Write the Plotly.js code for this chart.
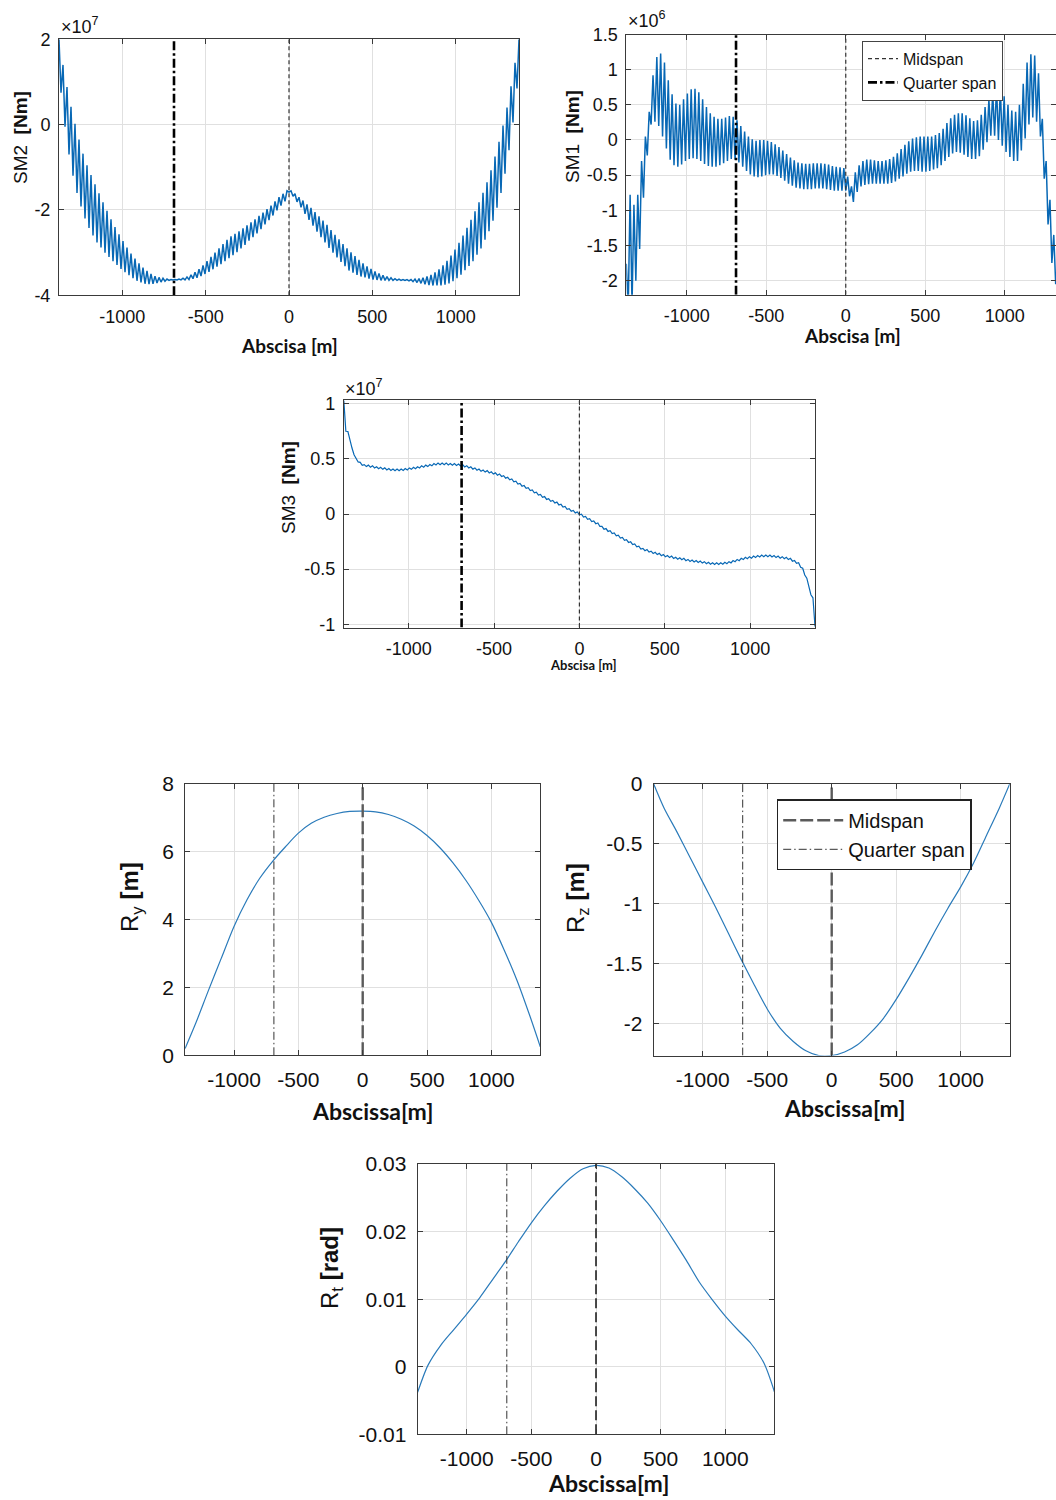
<!DOCTYPE html>
<html>
<head>
<meta charset="utf-8">
<script src="https://cdn.plot.ly/plotly-3.0.1.min.js"></script>
<style>html,body{margin:0;padding:0;background:#fff}#chart{width:1056px;height:1500px}</style>
</head>
<body>
<div id="chart"></div>
<script>
// ---------- data ----------
// abscissa grid of the moment diagrams: start of span and sampling step [m]
const spanStart = -1380;
const sampleStep = 12;
const midspanX = 0;
const quarterSpanX = -690;

// SM2 [x1e7 Nm], one value every 12 m from -1380 m
const sm2Values = [
  2.00, 0.75, 1.40, -0.05, 0.88, -0.70, 0.42, -1.20, 0.02, -1.60,
  -0.35, -1.92, -0.68, -2.20, -0.95, -2.42, -1.18, -2.60, -1.40, -2.76,
  -1.61, -2.88, -1.82, -3.00, -2.02, -3.10, -2.22, -3.20, -2.40, -3.29,
  -2.57, -3.38, -2.73, -3.46, -2.88, -3.53, -3.02, -3.60, -3.14, -3.66,
  -3.25, -3.70, -3.35, -3.73, -3.43, -3.74, -3.50, -3.73, -3.55, -3.71,
  -3.58, -3.69, -3.60, -3.67, -3.62, -3.65, -3.63, -3.64, -3.63, -3.64,
  -3.62, -3.64, -3.60, -3.64, -3.57, -3.63, -3.52, -3.61, -3.46, -3.59,
  -3.39, -3.55, -3.30, -3.50, -3.20, -3.45, -3.10, -3.39, -3.00, -3.33,
  -2.90, -3.27, -2.80, -3.20, -2.70, -3.13, -2.62, -3.06, -2.56, -2.99,
  -2.50, -2.90, -2.43, -2.82, -2.36, -2.72, -2.29, -2.64, -2.22, -2.55,
  -2.14, -2.45, -2.06, -2.34, -1.98, -2.24, -1.90, -2.13, -1.80, -2.01,
  -1.70, -1.90, -1.62, -1.80, -1.55, -1.58, -1.55, -1.68, -1.62, -1.81,
  -1.70, -1.94, -1.78, -2.09, -1.87, -2.23, -1.95, -2.37, -2.05, -2.51,
  -2.15, -2.64, -2.25, -2.76, -2.35, -2.89, -2.47, -3.00, -2.58, -3.11,
  -2.69, -3.22, -2.80, -3.32, -2.90, -3.42, -2.99, -3.47, -3.08, -3.52,
  -3.17, -3.56, -3.25, -3.58, -3.32, -3.61, -3.38, -3.63, -3.44, -3.64,
  -3.49, -3.65, -3.53, -3.65, -3.56, -3.65, -3.59, -3.65, -3.61, -3.65,
  -3.62, -3.65, -3.63, -3.65, -3.63, -3.66, -3.63, -3.68, -3.62, -3.70,
  -3.61, -3.72, -3.59, -3.74, -3.56, -3.76, -3.52, -3.77, -3.46, -3.77,
  -3.39, -3.77, -3.30, -3.75, -3.19, -3.72, -3.07, -3.67, -2.93, -3.60,
  -2.77, -3.52, -2.60, -3.41, -2.42, -3.31, -2.23, -3.20, -2.03, -3.05,
  -1.82, -2.90, -1.60, -2.70, -1.35, -2.50, -1.07, -2.25, -0.75, -1.95,
  -0.40, -1.60, -0.02, -1.15, 0.40, -0.60, 0.90, 0.05, 1.45, 0.85,
  2.00
];

// SM1 [x1e6 Nm], one value every 12 m from -1380 m
const sm1Values = [
  -1.76, -2.40, -0.78, -2.35, -0.92, -2.00, -0.78, -1.55, -0.30, -0.82,
  0.05, -0.22, 0.40, 0.22, 0.92, 0.26, 1.18, 0.20, 1.23, 0.05,
  1.10, -0.12, 0.85, -0.28, 0.65, -0.36, 0.52, -0.38, 0.50, -0.35,
  0.58, -0.30, 0.66, -0.27, 0.72, -0.26, 0.73, -0.27, 0.68, -0.30,
  0.58, -0.34, 0.47, -0.37, 0.38, -0.38, 0.33, -0.38, 0.30, -0.36,
  0.30, -0.33, 0.32, -0.30, 0.34, -0.27, 0.33, -0.28, 0.28, -0.32,
  0.20, -0.38, 0.12, -0.44, 0.05, -0.49, 0.01, -0.52, -0.01, -0.53,
  0.00, -0.52, 0.00, -0.50, -0.01, -0.49, -0.03, -0.49, -0.06, -0.51,
  -0.10, -0.54, -0.15, -0.58, -0.20, -0.62, -0.25, -0.65, -0.29, -0.68,
  -0.32, -0.69, -0.33, -0.70, -0.34, -0.70, -0.34, -0.70, -0.33, -0.69,
  -0.33, -0.69, -0.33, -0.69, -0.34, -0.70, -0.35, -0.71, -0.37, -0.72,
  -0.38, -0.72, -0.39, -0.72, -0.40, -0.72, -0.52, -0.80, -0.66, -0.88,
  -0.46, -0.74, -0.36, -0.66, -0.30, -0.64, -0.28, -0.63, -0.28, -0.62,
  -0.29, -0.62, -0.30, -0.62, -0.30, -0.62, -0.29, -0.62, -0.27, -0.61,
  -0.24, -0.59, -0.19, -0.55, -0.13, -0.52, -0.07, -0.48, -0.02, -0.45,
  0.02, -0.44, 0.04, -0.44, 0.05, -0.45, 0.05, -0.45, 0.05, -0.44,
  0.05, -0.42, 0.07, -0.40, 0.10, -0.36, 0.16, -0.30, 0.24, -0.24,
  0.31, -0.19, 0.36, -0.17, 0.38, -0.18, 0.38, -0.21, 0.35, -0.24,
  0.31, -0.27, 0.27, -0.27, 0.28, -0.23, 0.36, -0.14, 0.47, -0.03,
  0.58, 0.06, 0.68, 0.06, 0.76, 0.00, 0.74, -0.08, 0.62, -0.17,
  0.50, -0.24, 0.42, -0.30, 0.40, -0.30, 0.50, -0.15, 0.80, 0.02,
  1.10, 0.22, 1.22, 0.32, 1.20, 0.26, 0.95, 0.05, 0.30, -0.55,
  -0.30, -1.20, -0.85, -1.75, -1.35, -2.05, -1.80
];

// SM3 [x1e7 Nm]: values at the hangers (every 24 m from -1380 m) and between them
const sm3AtHangers = [
  1.03, 0.748, 0.598, 0.508, 0.468, 0.448, 0.443, 0.438, 0.428, 0.423,
  0.418, 0.413, 0.408, 0.408, 0.408, 0.413, 0.418, 0.423, 0.428, 0.438,
  0.443, 0.448, 0.458, 0.463, 0.463, 0.463, 0.458, 0.458, 0.453, 0.448,
  0.438, 0.428, 0.418, 0.408, 0.398, 0.393, 0.383, 0.373, 0.363, 0.348,
  0.333, 0.318, 0.298, 0.278, 0.258, 0.238, 0.218, 0.198, 0.178, 0.158,
  0.138, 0.123, 0.108, 0.088, 0.068, 0.048, 0.033, 0.018, -0.002, -0.022,
  -0.042, -0.062, -0.082, -0.112, -0.132, -0.152, -0.172, -0.192, -0.212, -0.232,
  -0.252, -0.272, -0.292, -0.312, -0.322, -0.337, -0.347, -0.357, -0.367, -0.377,
  -0.382, -0.392, -0.397, -0.402, -0.412, -0.417, -0.422, -0.427, -0.432, -0.437,
  -0.442, -0.442, -0.442, -0.437, -0.432, -0.422, -0.412, -0.402, -0.392, -0.387,
  -0.382, -0.377, -0.372, -0.372, -0.372, -0.377, -0.382, -0.387, -0.392, -0.402,
  -0.422, -0.442, -0.492, -0.582, -0.732, -1.02
];
const sm3BetweenHangers = [
  0.75, 0.66, 0.537, 0.472, 0.442, 0.43, 0.425, 0.417, 0.41, 0.405,
  0.40, 0.395, 0.392, 0.392, 0.395, 0.40, 0.405, 0.41, 0.417, 0.425,
  0.43, 0.437, 0.445, 0.447, 0.447, 0.445, 0.442, 0.44, 0.435, 0.427,
  0.417, 0.407, 0.397, 0.387, 0.38, 0.372, 0.362, 0.352, 0.34, 0.325,
  0.31, 0.292, 0.272, 0.252, 0.232, 0.212, 0.192, 0.172, 0.152, 0.132,
  0.115, 0.10, 0.082, 0.062, 0.042, 0.025, 0.01, -0.008, -0.028, -0.048,
  -0.068, -0.088, -0.113, -0.138, -0.158, -0.178, -0.198, -0.218, -0.238, -0.258,
  -0.278, -0.298, -0.318, -0.333, -0.345, -0.358, -0.368, -0.378, -0.388, -0.395,
  -0.403, -0.41, -0.415, -0.423, -0.43, -0.435, -0.44, -0.445, -0.45, -0.455,
  -0.458, -0.458, -0.455, -0.45, -0.443, -0.433, -0.423, -0.413, -0.405, -0.40,
  -0.395, -0.39, -0.388, -0.388, -0.39, -0.395, -0.40, -0.405, -0.413, -0.428,
  -0.448, -0.483, -0.553, -0.66, -0.76
];

// Displacements / rotation along the span
const rAbscissa = [-1380, -1300, -1200, -1100, -1000, -900, -800, -700, -600, -500, -400, -300, -200, -100, 0,
  100, 200, 300, 400, 500, 600, 700, 800, 900, 1000, 1100, 1200, 1300, 1380];
const rY = [0.2, 0.92, 1.9, 2.85, 3.8, 4.58, 5.22, 5.72, 6.15, 6.55, 6.84, 7.02, 7.13, 7.19, 7.2,
  7.18, 7.1, 6.96, 6.76, 6.48, 6.12, 5.68, 5.17, 4.58, 3.92, 3.1, 2.2, 1.15, 0.25];
const rZ = [0.0, -0.20, -0.40, -0.61, -0.82, -1.03, -1.25, -1.47, -1.68, -1.88, -2.04, -2.15, -2.23, -2.27, -2.27,
  -2.24, -2.18, -2.08, -1.96, -1.80, -1.62, -1.43, -1.23, -1.04, -0.86, -0.66, -0.43, -0.20, 0.0];
const rT = [-0.0038, 0.0002, 0.0032, 0.0055, 0.0078, 0.0102, 0.0129, 0.0156, 0.0185, 0.0213, 0.0238, 0.0260, 0.0279, 0.0293, 0.0298,
  0.0294, 0.0281, 0.0263, 0.0242, 0.0216, 0.0187, 0.0157, 0.0125, 0.0099, 0.0075, 0.0054, 0.0034, 0.0005, -0.0037];

// tick labels
const xTickVals = [-1000, -500, 0, 500, 1000];
const xTickText = ['-1000', '-500', '0', '500', '1000'];
const sm2TickVals = [-4, -2, 0, 2];
const sm2TickText = ['-4', '-2', '0', '2'];
const sm1TickVals = [-2, -1.5, -1, -0.5, 0, 0.5, 1, 1.5];
const sm1TickText = ['-2', '-1.5', '-1', '-0.5', '0', '0.5', '1', '1.5'];
const sm3TickVals = [-1, -0.5, 0, 0.5, 1];
const sm3TickText = ['-1', '-0.5', '0', '0.5', '1'];
const ryTickVals = [0, 2, 4, 6, 8];
const ryTickText = ['0', '2', '4', '6', '8'];
const rzTickVals = [-2, -1.5, -1, -0.5, 0];
const rzTickText = ['-2', '-1.5', '-1', '-0.5', '0'];
const rtTickVals = [-0.01, 0, 0.01, 0.02, 0.03];
const rtTickText = ['-0.01', '0', '0.01', '0.02', '0.03'];

// axis ranges
const xRange = [-1380, 1380];
const xRangeSM1 = [-1380, 1322];
const sm2Range = [-4, 2];
const sm1Range = [-2.2, 1.5];
const sm3Range = [-1.03, 1.03];
const ryRange = [0, 8];
const rzRange = [-2.27, 0];
const rtRange = [-0.01, 0.03];

// ---------- build ----------
const smX = sm2Values.map((_, i) => spanStart + i * sampleStep);
const sm1X = sm1Values.map((_, i) => spanStart + i * sampleStep);
const sm3Values = [];
sm3AtHangers.forEach((v, k) => {
  sm3Values.push(v);
  if (k < sm3BetweenHangers.length) sm3Values.push(sm3BetweenHangers[k]);
});
const sm3X = sm3Values.map((_, i) => spanStart + i * sampleStep);

const BLUE = '#0868b5';
const TICKFONT = 'Liberation Sans, Arial, sans-serif';
const BOLDFONT = 'Lato, Liberation Sans, sans-serif';

function xAxis(domain, anchor, range, size, standoff) {
  return {
    domain, anchor, range, tickmode: 'array', tickvals: xTickVals, ticktext: xTickText,
    showgrid: true, gridcolor: '#e0e0e0', gridwidth: 1, zeroline: false,
    showline: true, linecolor: '#3a3a3a', linewidth: 1, mirror: 'ticks',
    ticks: 'inside', ticklen: 5, tickcolor: '#3a3a3a',
    tickfont: {family: TICKFONT, size, color: '#111'}, ticklabelstandoff: standoff
  };
}
function yAxis(domain, anchor, range, vals, text, size, standoff) {
  return {
    domain, anchor, range, tickmode: 'array', tickvals: vals, ticktext: text,
    showgrid: true, gridcolor: '#e0e0e0', gridwidth: 1, zeroline: false,
    showline: true, linecolor: '#3a3a3a', linewidth: 1, mirror: 'ticks',
    ticks: 'inside', ticklen: 5, tickcolor: '#3a3a3a',
    tickfont: {family: TICKFONT, size, color: '#111'}, ticklabelstandoff: standoff
  };
}
function vline(xv, range, xa, ya, style, name, legend) {
  return Object.assign({
    x: [xv, xv], y: range, xaxis: xa, yaxis: ya, mode: 'lines',
    name: name, showlegend: !!legend, hoverinfo: 'skip'
  }, legend ? {legend} : {}, {line: style});
}

const qThick = {color: '#000', width: 2.6, dash: '9px,3px,2.5px,3px'};
const mThin = {color: '#333', width: 1.2, dash: '4px,3px'};
const qThin = {color: '#333', width: 1, dash: '8px,3px,1.5px,3px'};
const mThickGray = {color: '#5a5a5a', width: 2.4, dash: '13px,4px'};
const mDashBlack = {color: '#111', width: 1.5, dash: '10px,4px'};
const rLine = {color: '#2b7bba', width: 1.2, shape: 'spline', smoothing: 0.8};

const traces = [
  {x: smX, y: sm2Values, xaxis: 'x', yaxis: 'y', mode: 'lines', line: {color: BLUE, width: 1.5}, showlegend: false},
  vline(quarterSpanX, sm2Range, 'x', 'y', qThick, 'Quarter span'),
  vline(midspanX, sm2Range, 'x', 'y', mThin, 'Midspan'),

  {x: sm1X, y: sm1Values, xaxis: 'x2', yaxis: 'y2', mode: 'lines', line: {color: BLUE, width: 1.5}, showlegend: false},
  vline(midspanX, sm1Range, 'x2', 'y2', mThin, 'Midspan', 'legend'),
  vline(quarterSpanX, sm1Range, 'x2', 'y2', qThick, 'Quarter span', 'legend'),

  {x: sm3X, y: sm3Values, xaxis: 'x3', yaxis: 'y3', mode: 'lines', line: {color: BLUE, width: 1.2}, showlegend: false},
  vline(quarterSpanX, sm3Range, 'x3', 'y3', qThick, 'Quarter span'),
  vline(midspanX, sm3Range, 'x3', 'y3', mThin, 'Midspan'),

  {x: rAbscissa, y: rY, xaxis: 'x4', yaxis: 'y4', mode: 'lines', line: rLine, showlegend: false},
  vline(quarterSpanX, ryRange, 'x4', 'y4', qThin, 'Quarter span'),
  vline(midspanX, ryRange, 'x4', 'y4', mThickGray, 'Midspan'),

  {x: rAbscissa, y: rZ, xaxis: 'x5', yaxis: 'y5', mode: 'lines', line: rLine, showlegend: false},
  vline(midspanX, rzRange, 'x5', 'y5', mThickGray, 'Midspan', 'legend2'),
  vline(quarterSpanX, rzRange, 'x5', 'y5', qThin, 'Quarter span', 'legend2'),

  {x: rAbscissa, y: rT, xaxis: 'x6', yaxis: 'y6', mode: 'lines', line: rLine, showlegend: false},
  vline(quarterSpanX, rtRange, 'x6', 'y6', qThin, 'Quarter span'),
  vline(midspanX, rtRange, 'x6', 'y6', mDashBlack, 'Midspan')
];

const W = 1056, H = 1500;
const px = v => v / W;
const py = v => 1 - v / H;

function ann(text, x, y, size, opts) {
  return Object.assign({
    text, x: px(x), y: py(y), xref: 'paper', yref: 'paper', showarrow: false,
    font: {family: TICKFONT, size, color: '#111'}, xanchor: 'center', yanchor: 'middle'
  }, opts || {});
}
const boldFont = s => ({family: BOLDFONT, size: s, color: '#111', weight: 700});

const layout = {
  width: W, height: H, margin: {l: 0, r: 0, t: 0, b: 0},
  paper_bgcolor: '#fff', plot_bgcolor: '#fff', showlegend: true,
  xaxis: xAxis([px(59), px(519)], 'y', xRange, 18, 5),
  yaxis: yAxis([py(295.3), py(39.3)], 'x', sm2Range, sm2TickVals, sm2TickText, 18, 4),
  xaxis2: xAxis([px(626.3), 1], 'y2', xRangeSM1, 18, 5),
  yaxis2: yAxis([py(294.7), py(34.5)], 'x2', sm1Range, sm1TickVals, sm1TickText, 18, 4),
  xaxis3: xAxis([px(343.8), px(815)], 'y3', xRange, 18, 5),
  yaxis3: yAxis([py(627.6), py(400.4)], 'x3', sm3Range, sm3TickVals, sm3TickText, 18, 4),
  xaxis4: xAxis([px(185.1), px(540.3)], 'y4', xRange, 21, 5),
  yaxis4: yAxis([py(1055.3), py(784)], 'x4', ryRange, ryTickVals, ryTickText, 21, 6),
  xaxis5: xAxis([px(653.7), px(1009.7)], 'y5', xRange, 21, 5),
  yaxis5: yAxis([py(1055.6), py(784)], 'x5', rzRange, rzTickVals, rzTickText, 21, 6),
  xaxis6: xAxis([px(417.6), px(774.4)], 'y6', xRange, 21, 5),
  yaxis6: yAxis([py(1434.3), py(1164)], 'x6', rtRange, rtTickVals, rtTickText, 21, 6),
  legend: {
    x: px(862), y: py(40.7), xanchor: 'left', yanchor: 'top',
    bgcolor: '#fff', bordercolor: '#444', borderwidth: 1,
    font: {family: TICKFONT, size: 16, color: '#111'}, tracegroupgap: 0
  },
  legend2: {
    x: px(776.7), y: py(799.3), xanchor: 'left', yanchor: 'top',
    bgcolor: '#fff', bordercolor: '#222', borderwidth: 1.5,
    font: {family: TICKFONT, size: 20, color: '#111'}, tracegroupgap: 0, itemwidth: 60
  },
  annotations: [
    ann('\u00d710<sup>7</sup>', 59, 25, 18, {xanchor: 'left'}),
    ann('SM2  <b>[Nm]</b>', 21, 138, 19, {textangle: -90}),
    ann('Abscisa [m]', 289, 345, 19, {font: boldFont(19)}),

    ann('\u00d710<sup>6</sup>', 626, 19, 18, {xanchor: 'left'}),
    ann('SM1  <b>[Nm]</b>', 572, 137, 19, {textangle: -90}),
    ann('Abscisa [m]', 852, 336, 19, {font: boldFont(19)}),

    ann('\u00d710<sup>7</sup>', 343, 387, 18, {xanchor: 'left'}),
    ann('SM3  <b>[Nm]</b>', 289, 488, 19, {textangle: -90}),
    ann('Abscisa [m]', 583, 665, 13, {font: boldFont(13)}),

    ann('R<sub>y</sub> <b>[m]</b>', 131, 897, 24, {textangle: -90}),
    ann('Abscissa[m]', 372, 1111, 23, {font: boldFont(23)}),

    ann('R<sub>z</sub> <b>[m]</b>', 577, 898, 24, {textangle: -90}),
    ann('Abscissa[m]', 844, 1108, 23, {font: boldFont(23)}),

    ann('R<sub>t</sub> <b>[rad]</b>', 331, 1268, 24, {textangle: -90}),
    ann('Abscissa[m]', 608, 1499, 23, {font: boldFont(23), yanchor: 'bottom'})
  ]
};

Plotly.newPlot('chart', traces, layout, {staticPlot: true, displayModeBar: false});
</script>
</body>
</html>
